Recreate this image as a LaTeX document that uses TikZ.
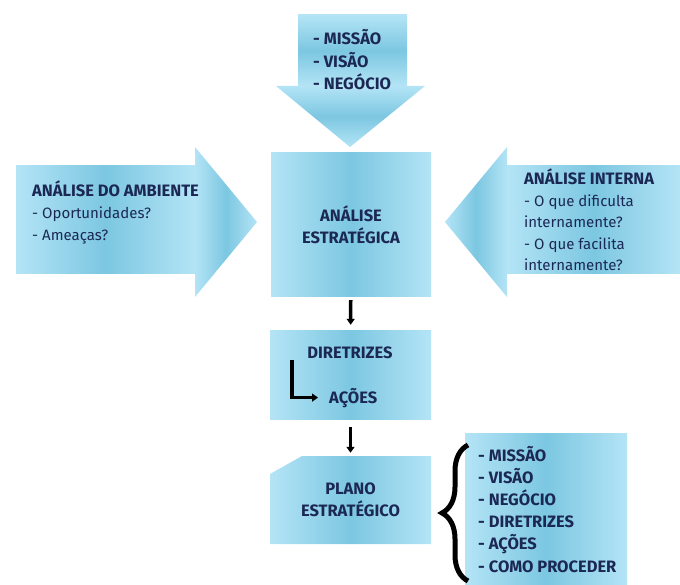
\documentclass[tikz,border=0pt]{standalone}
\usepackage{fontspec}
\setmainfont{Fira Sans}
\usetikzlibrary{arrows.meta}
\usetikzlibrary{calc}
\usetikzlibrary{positioning}
\usetikzlibrary{decorations.pathreplacing}
\definecolor{lightsky}{RGB}{180,228,246}
\definecolor{midsky}{RGB}{124,199,225}
\definecolor{navytext}{RGB}{28,40,84}
\tikzset{
	hshade/.style={left color=lightsky,right color=lightsky,middle color=midsky},
	vshade/.style={top color=lightsky,bottom color=lightsky,middle color=midsky},
	box/.style={hshade,inner sep=0pt,text=navytext,align=center,font=\fontsize{16.5}{22.5}\selectfont\bfseries},
	txt/.style={anchor=base west,inner sep=0pt,text=navytext,font=\fontsize{15}{22}\selectfont},
	capt/.style={txt,font=\fontsize{16.5}{22}\selectfont\bfseries},
	flow/.style={-{Triangle[length=6pt,width=8pt]},line width=3.5pt}
}
\begin{document}
\begin{tikzpicture}[x=1pt,y=-1pt]
				\useasboundingbox (0,0) rectangle (680,585);
				% draw top arrow
				\shade[vshade] (298,15) rectangle (407,86);
				\shade[vshade] (276,86) -- (425,86) -- (350,147) -- cycle;
				\foreach \t [count=\i] in {MISSÃO,VISÃO,NEGÓCIO}
					\node[capt] (top-\i) at (313,{45+22.5*(\i-1)}) {- \t};
				% draw left arrow
				\shade[hshade] (16,166) rectangle (195,274);
				\shade[hshade] (195,147) -- (257,222) -- (195,297) -- cycle;
				\node[capt] (amb) at (32,197) {ANÁLISE DO AMBIENTE};
				\node[txt] (amb-1) at (32,219) {- Oportunidades?};
				\node[txt] (amb-2) at (32,241) {- Ameaças?};
				% draw right arrow
				\shade[hshade] (507,166) rectangle (680,274);
				\shade[hshade] (507,147) -- (445,222) -- (507,297) -- cycle;
				\node[capt] (int) at (524,185) {ANÁLISE INTERNA};
				\foreach \t [count=\i] in {- O que dificulta,internamente?,- O que facilita,internamente?}
					\node[txt] (int-\i) at (524,{185+21.5*\i}) {\t};
				% draw center boxes
				\node[box,minimum width=160pt,minimum height=144pt] (analise) at (351,225) {ANÁLISE\\ESTRATÉGICA};
				\node[box,minimum width=161pt,minimum height=89pt] (diret) at (350.5,374.5) {};
				\node[capt,anchor=base] (diret-t) at (350,358) {DIRETRIZES};
				\node[capt] (acoes) at (329,403) {AÇÕES};
				\coordinate (lstart) at (292,360);
				\draw[flow] (lstart) |- (acoes.west) [shorten >=11pt];
				\shade[hshade] (270,474) -- (302,456) -- (431,456) -- (431,544) -- (270,544) -- cycle;
				\node[box,shading=axis,left color=lightsky!0,minimum width=161pt,minimum height=88pt,fill opacity=0,text opacity=1] (plano) at (350.5,500) {PLANO\\ESTRATÉGICO};
				\draw[flow,shorten <=3pt,shorten >=5pt] (analise) -- (diret);
				\draw[flow,shorten <=8pt,shorten >=3pt] (diret) -- (plano);
				% draw list on the right
				\node[box,minimum width=162pt,minimum height=152pt] (lista) at (546,509) {};
				\foreach \t [count=\i] in {MISSÃO,VISÃO,NEGÓCIO,DIRETRIZES,AÇÕES,COMO PROCEDER}
					\node[capt] (lista-\i) at (478,{461+22.2*(\i-1)}) {- \t};
				\draw[decorate,decoration={brace,amplitude=26pt},line width=5pt] (468,581) -- (468,445);
			\end{tikzpicture}
\end{document}
